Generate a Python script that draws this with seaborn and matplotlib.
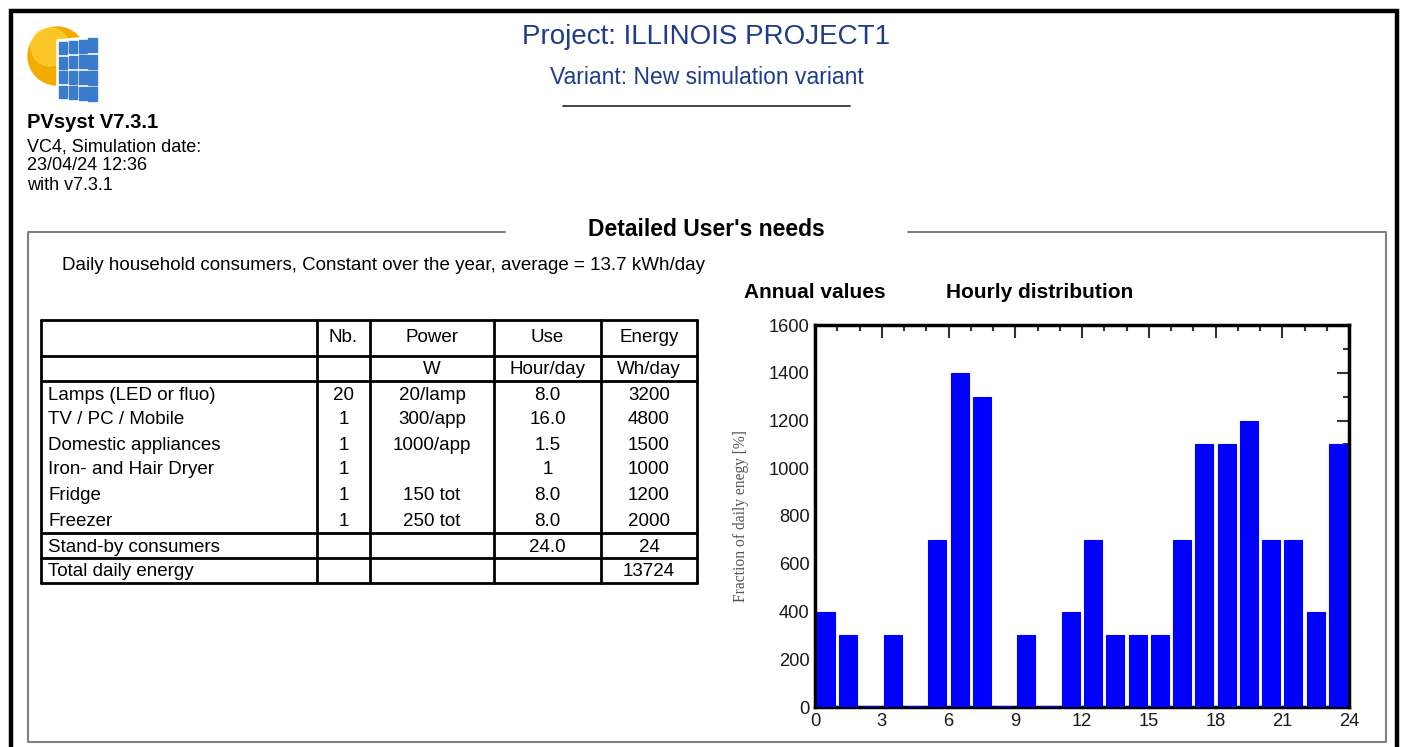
import matplotlib
matplotlib.use("Agg")
import matplotlib.pyplot as plt
import seaborn as sns
import numpy as np
import pandas as pd
from matplotlib.patches import Rectangle, Circle, Polygon
from matplotlib.ticker import MultipleLocator

# ---------------- data ----------------
hours = list(range(24))
hourly_energy = [400, 300, 0, 300, 0, 700, 1400, 1300, 0, 300, 0, 400,
                 700, 300, 300, 300, 700, 1100, 1100, 1200, 700, 700, 400, 1100]
x_ticks = [0, 3, 6, 9, 12, 15, 18, 21, 24]
y_ticks = [0, 200, 400, 600, 800, 1000, 1200, 1400, 1600]

col_headers = ["", "Nb.", "Power", "Use", "Energy"]
col_units = ["", "", "W", "Hour/day", "Wh/day"]
appliances = ["Lamps (LED or fluo)", "TV / PC / Mobile", "Domestic appliances",
              "Iron- and Hair Dryer", "Fridge", "Freezer"]
app_nb = ["20", "1", "1", "1", "1", "1"]
app_power = ["20/lamp", "300/app", "1000/app", "", "150 tot", "250 tot"]
app_use = ["8.0", "16.0", "1.5", "1", "8.0", "8.0"]
app_energy = ["3200", "4800", "1500", "1000", "1200", "2000"]
standby = ["Stand-by consumers", "", "", "24.0", "24"]
total = ["Total daily energy", "", "", "", "13724"]

project_title = "Project: ILLINOIS PROJECT1"
variant_title = "Variant: New simulation variant"
section_title = "Detailed User's needs"
subtitle = "Daily household consumers, Constant over the year, average = 13.7 kWh/day"

# ---------------- figure ----------------
sns.set_style("white")
plt.rcParams['font.family'] = ['Liberation Sans', 'DejaVu Sans']

W, H = 1403, 747
fig = plt.figure(figsize=(W / 100, H / 100), dpi=100)
bg = fig.add_axes([0, 0, 1, 1])
bg.set_xlim(0, W)
bg.set_ylim(H, 0)
bg.axis("off")

# outer black frame
bg.plot([11, 11, 1397, 1397], [H + 5, 11, 11, H + 5], color="black", lw=3.2, solid_joinstyle="miter")

# logo
bg.add_patch(Circle((57, 56), 29, color="#f2ac00", zorder=2))
bg.add_patch(Circle((50, 47), 19, color="#ffd23a", zorder=2, alpha=0.7))
bg.add_patch(Polygon([[57, 40], [99, 36], [99, 101], [57, 94]], closed=True, color="white", zorder=3))
for i in range(4):
    for j in range(4):
        x0 = 59 + i * 9.8
        top = 42 - i * 1.2
        hgt = 12.0 + i * 0.6
        y0 = top + j * (hgt + 2.5)
        bg.add_patch(Rectangle((x0, y0), 8.4, hgt, color="#3b7bcb", zorder=4))

# left header text
bg.text(27, 122, "PVsyst V7.3.1", fontsize=14.5, fontweight="bold", va="center", ha="left", color="black")
bg.text(27, 147, "VC4, Simulation date:", fontsize=13, va="center", ha="left", color="black")
bg.text(27, 166, "23/04/24 12:36", fontsize=13, va="center", ha="left", color="black")
bg.text(27, 185, "with v7.3.1", fontsize=13, va="center", ha="left", color="black")

# project titles
blue = "#1f3c8c"
bg.text(706, 37, project_title, fontsize=20, va="center", ha="center", color=blue)
bg.text(707, 78, variant_title, fontsize=16.5, va="center", ha="center", color=blue)
bg.plot([563, 850], [106, 106], color="#222222", lw=1.2)

# section box
gray = "#808080"
bg.plot([505, 28, 28, 1386, 1386, 908], [232, 232, 742, 742, 232, 232], color=gray, lw=1.5)
bg.text(706, 229, section_title, fontsize=16.5, fontweight="bold", va="center", ha="center", color="black")
bg.text(62, 265, subtitle, fontsize=13.5, va="center", ha="left", color="black")

# table
xs = [41, 317, 370, 494, 601, 697]
centers = [(xs[k] + xs[k + 1]) / 2 for k in range(5)]
hlines = [320, 356, 381, 533, 558, 583]
for y in hlines:
    bg.plot([xs[0], xs[-1]], [y, y], color="black", lw=2)
for x in xs:
    bg.plot([x, x], [hlines[0], hlines[-1]], color="black", lw=2)

fs_t = 13.5
def row_text(vals, y):
    for k, v in enumerate(vals):
        if k == 0:
            bg.text(48, y, v, fontsize=fs_t, va="center", ha="left", color="black")
        else:
            bg.text(centers[k], y, v, fontsize=fs_t, va="center", ha="center", color="black")

row_text(col_headers, 338)
row_text(col_units, 370)
row_ys = [395, 420, 445, 470, 495, 521]
for r in range(len(appliances)):
    row_text([appliances[r], app_nb[r], app_power[r], app_use[r], app_energy[r]], row_ys[r])
row_text(standby, 547)
row_text(total, 572)

# chart headings
bg.text(744, 292, "Annual values", fontsize=15, fontweight="bold", va="center", ha="left", color="black")
bg.text(946, 292, "Hourly distribution", fontsize=15, fontweight="bold", va="center", ha="left", color="black")

# ---------------- bar chart ----------------
ax_l, ax_r, ax_t, ax_b = 815, 1349, 325, 707
ax = fig.add_axes([ax_l / W, (H - ax_b) / H, (ax_r - ax_l) / W, (ax_b - ax_t) / H])
df = pd.DataFrame({"pos": np.array(hours) + 0.5, "energy": hourly_energy})
sns.barplot(data=df, x="pos", y="energy", native_scale=True, width=0.8,
            color="#0000ff", edgecolor="#0000ff", linewidth=1.0, saturation=1,
            errorbar=None, ax=ax)
for p in ax.patches:
    p.set_zorder(2.2)
    p.set_linewidth(2.2 if p.get_height() == 0 else 0.8)
ax.set_xlim(0, 24)
ax.set_ylim(0, 1600)
ax.set_xticks(x_ticks)
ax.set_xticklabels([str(v) for v in x_ticks])
ax.set_yticks(y_ticks)
ax.set_yticklabels([str(v) for v in y_ticks])
ax.xaxis.set_minor_locator(MultipleLocator(1))
ax.yaxis.set_minor_locator(MultipleLocator(100))
ax.tick_params(which="both", direction="in", top=True, right=True,
               color="#333333", width=1.5, labelsize=13.2, labelcolor="#1a1a1a")
ax.tick_params(which="major", length=9, pad=4)
ax.tick_params(which="minor", length=4.5)
for s in ax.spines.values():
    s.set_linewidth(2.5)
    s.set_color("black")
    s.set_zorder(2.1)
ax.set_xlabel("")
ax.set_ylabel("Fraction of daily enegy [%]", fontsize=11.2, color="#555555",
              family=["Liberation Serif", "DejaVu Serif"], labelpad=14)
ax.set_facecolor("white")

fig.savefig("out.png", dpi=100, facecolor="white")
